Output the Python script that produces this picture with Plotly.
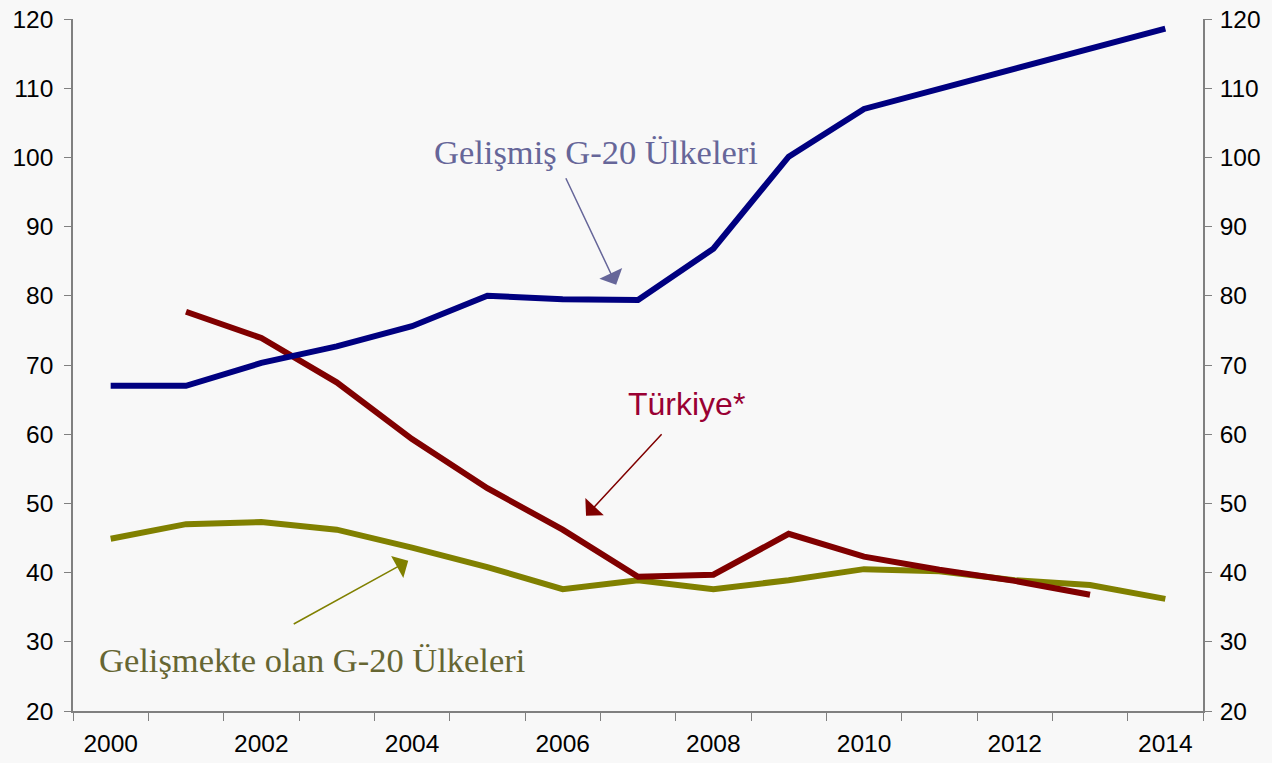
import plotly.graph_objects as go

years = list(range(2000, 2015))
tick_years = [2000, 2002, 2004, 2006, 2008, 2010, 2012, 2014]
tick_labels = [str(y) for y in tick_years]

gelismis = [67.0, 67.0, 70.3, 72.7, 75.6, 80.0, 79.5, 79.4, 86.8, 100.1, 107.0, 109.9, 112.8, 115.8, 118.6]
turkiye_years = list(range(2001, 2014))
turkiye = [77.7, 73.9, 67.5, 59.3, 52.2, 46.2, 39.4, 39.7, 45.6, 42.3, 40.4, 38.8, 36.8]
gelismekte = [44.9, 47.0, 47.3, 46.2, 43.6, 40.8, 37.6, 38.9, 37.6, 38.9, 40.5, 40.2, 38.9, 38.2, 36.2]

fig = go.Figure()
fig.add_trace(go.Scatter(x=years, y=gelismekte, mode="lines",
                         line=dict(color="#808000", width=6), showlegend=False))
fig.add_trace(go.Scatter(x=turkiye_years, y=turkiye, mode="lines",
                         line=dict(color="#800000", width=6), showlegend=False))
fig.add_trace(go.Scatter(x=years, y=gelismis, mode="lines",
                         line=dict(color="#000080", width=6), showlegend=False))
# invisible trace for right axis
fig.add_trace(go.Scatter(x=[years[0]], y=[gelismis[0]], yaxis="y2", mode="lines",
                         line=dict(width=0), showlegend=False, hoverinfo="skip"))

axis_font = dict(family="Liberation Sans, Arial, sans-serif", size=24.5, color="#000000")

fig.update_layout(
    width=1272, height=763,
    margin=dict(l=73, r=69, t=19, b=52, autoexpand=False),
    paper_bgcolor="#f8f8f8", plot_bgcolor="#f8f8f8",
    xaxis=dict(range=[1999.5, 2014.5], tickmode="array", tickvals=tick_years, ticktext=tick_labels,
               ticks="", showgrid=False, zeroline=False, showline=True, linecolor="#808080",
               linewidth=1.5, tickfont=axis_font, ticklabelstandoff=10, automargin=False,
               minor=dict(tickmode="linear", tick0=1999.5, dtick=1, ticks="outside",
                          ticklen=8, tickcolor="#808080", tickwidth=1.2, showgrid=False)),
    yaxis=dict(range=[20, 120], dtick=10, tick0=20, ticks="outside", ticklen=7,
               tickcolor="#808080", tickwidth=1.2, showgrid=False, zeroline=False,
               showline=True, linecolor="#808080", linewidth=1.5, tickfont=axis_font,
               ticklabelstandoff=6, automargin=False),
    yaxis2=dict(range=[20, 120], dtick=10, tick0=20, ticks="outside", ticklen=7,
                tickcolor="#808080", tickwidth=1.2, showgrid=False, zeroline=False,
                showline=True, linecolor="#808080", linewidth=1.5, tickfont=axis_font,
                ticklabelstandoff=3, overlaying="y", side="right", automargin=False),
)

serif = "Liberation Serif, Times New Roman, serif"
annotations = [
    dict(x=2006.44, y=100.8, text="Gelişmiş G-20 Ülkeleri", showarrow=False,
         font=dict(family=serif, size=34.5, color="#666699")),
    dict(x=2007.64, y=64.4, text="Türkiye*", showarrow=False,
         font=dict(family="Liberation Sans, Arial, sans-serif", size=32, color="#990033")),
    dict(x=2002.67, y=27.3, text="Gelişmekte olan G-20 Ülkeleri", showarrow=False,
         font=dict(family=serif, size=34.5, color="#666633")),
    dict(x=2006.71, y=81.6, ax=-51, ay=-108, text="", showarrow=True,
         arrowhead=1, arrowsize=2.8, arrowwidth=1.5, arrowcolor="#666699"),
    dict(x=2006.31, y=48.2, ax=77, ay=-83, text="", showarrow=True,
         arrowhead=1, arrowsize=2.8, arrowwidth=1.5, arrowcolor="#800000"),
    dict(x=2003.95, y=41.7, ax=-116, ay=64, text="", showarrow=True,
         arrowhead=1, arrowsize=2.8, arrowwidth=1.5, arrowcolor="#808000"),
]
fig.update_layout(annotations=annotations)

fig.write_html("out.html", config={"displayModeBar": False},
               post_script="document.body.style.margin='0';document.body.style.padding='0';"
                           "document.body.style.overflow='hidden';")
